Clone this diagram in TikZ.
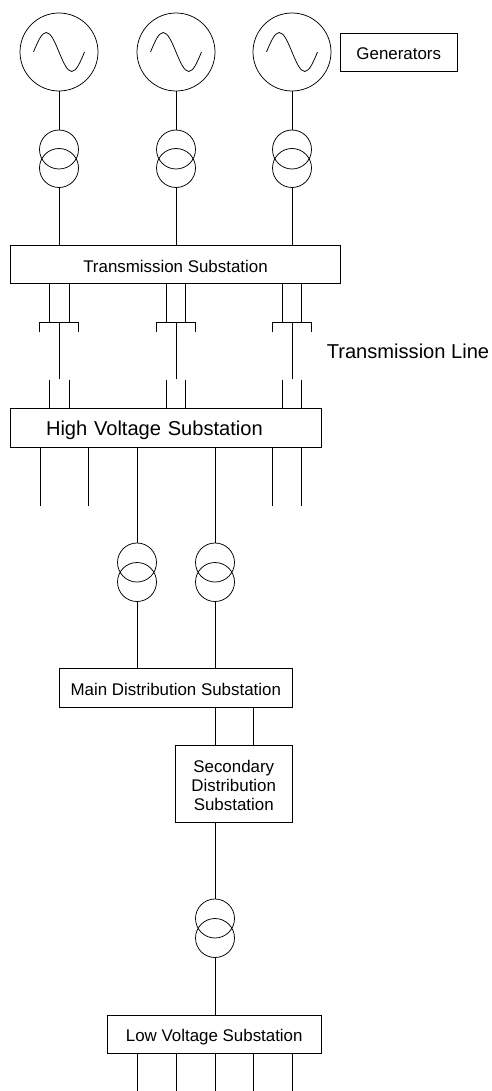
\documentclass[tikz,border=0pt]{standalone}
\usepackage{fontspec}
\setmainfont{Liberation Sans}
\tikzset{
  every node/.style={inner sep=0pt, outer sep=0pt},
  gencircle/.style={draw, circle, minimum size=78pt},
  trfcircle/.style={draw, circle, minimum size=39pt},
  subbox/.style={draw, minimum height=38.5pt, text height=15pt, text depth=0pt, font=\fontsize{16.9}{19}\selectfont},
  bigtext/.style={font=\fontsize{20.1}{24}\selectfont}
}
\newcommand{\sinewave}[1]{\draw ([xshift=-25.5pt]#1.center) sin ++(12.75,-19.5) cos ++(12.75,19.5) sin ++(12.75,19.5) cos ++(12.75,-19.5);}
\begin{document}
\begin{tikzpicture}[x=1pt,y=-1pt,line width=0.75pt]
  \useasboundingbox (0,0) rectangle (491,1091);
  % generators
  \node[gencircle] (gen1) at (59,52) {};
  \node[gencircle] (gen2) at (176,52) {};
  \node[gencircle] (gen3) at (292,52) {};
  \sinewave{gen1}
  \sinewave{gen2}
  \sinewave{gen3}
  \node[subbox, minimum width=116.5pt] (genbox) at (398.75,52.5) {Generators};
  % step up transformers
  \node[trfcircle] (trfa1) at (59,149.5) {};
  \node[trfcircle] (trfb1) at (59,168) {};
  \node[trfcircle] (trfa2) at (176,149.5) {};
  \node[trfcircle] (trfb2) at (176,168) {};
  \node[trfcircle] (trfa3) at (292,149.5) {};
  \node[trfcircle] (trfb3) at (292,168) {};
  % substations
  \node[subbox, minimum width=330pt] (trans) at (175.5,264.5) {Transmission Substation};
  \node[subbox, bigtext, minimum width=310.5pt, text width=239.5pt, inner xsep=35.5pt, align=left] (high) at (165.75,428) {High Voltage Substation};
  \node[subbox, minimum width=232.5pt] (main) at (175.75,688) {Main Distribution Substation};
  \node[subbox, minimum width=116.5pt, minimum height=77pt, text height=53pt, align=center] (sec) at (233.75,784) {Secondary\\Distribution\\Substation};
  \node[subbox, minimum width=213.5pt] (low) at (214.25,1034.25) {Low Voltage Substation};
  \node[bigtext] (line) at (408,351) {Transmission Line};
  % transformers below
  \node[trfcircle] (trfa4) at (137,562.5) {};
  \node[trfcircle] (trfb4) at (137,582) {};
  \node[trfcircle] (trfa5) at (215,562.5) {};
  \node[trfcircle] (trfb5) at (215,582) {};
  \node[trfcircle] (trfa6) at (215,918.5) {};
  \node[trfcircle] (trfb6) at (215,938) {};
  % tower tops
  \coordinate (tow1) at (59,322);
  \coordinate (tow2) at (176,322);
  \coordinate (tow3) at (292,322);
  \coordinate (end1) at (59,379);
  \coordinate (end2) at (176,379);
  \coordinate (end3) at (292,379);
  \draw (gen1) -- (trfa1);
  \draw (gen2) -- (trfa2);
  \draw (gen3) -- (trfa3);
  \draw (trfb1) -- (trans.north -| trfb1);
  \draw (trfb2) -- (trans.north -| trfb2);
  \draw (trfb3) -- (trans.north -| trfb3);
  \draw (trans.south -| 49.5,0) -- (49.5,322);
  \draw (trans.south -| 69,0) -- (69,322);
  \draw (trans.south -| 166,0) -- (166,322);
  \draw (trans.south -| 185.5,0) -- (185.5,322);
  \draw (trans.south -| 282,0) -- (282,322);
  \draw (trans.south -| 301.5,0) -- (301.5,322);
  \draw ([xshift=-19.5pt,yshift=-10pt]tow1) -- ([xshift=-19.5pt]tow1) -- ([xshift=19.5pt]tow1) -- ([xshift=19.5pt,yshift=-10pt]tow1);
  \draw ([xshift=-19.5pt,yshift=-10pt]tow2) -- ([xshift=-19.5pt]tow2) -- ([xshift=19.5pt]tow2) -- ([xshift=19.5pt,yshift=-10pt]tow2);
  \draw ([xshift=-19.5pt,yshift=-10pt]tow3) -- ([xshift=-19.5pt]tow3) -- ([xshift=19.5pt]tow3) -- ([xshift=19.5pt,yshift=-10pt]tow3);
  \draw (tow1) -- (end1);
  \draw (tow2) -- (end2);
  \draw (tow3) -- (end3);
  % incoming and outgoing lines of the high voltage substation
  \draw (49.5,379.5) -- (high.north -| 49.5,0);
  \draw (69,379.5) -- (high.north -| 69,0);
  \draw (166,379.5) -- (high.north -| 166,0);
  \draw (185.5,379.5) -- (high.north -| 185.5,0);
  \draw (282,379.5) -- (high.north -| 282,0);
  \draw (301.5,379.5) -- (high.north -| 301.5,0);
  \draw (high.south -| 40,0) -- (40,505.5);
  \draw (high.south -| 88.5,0) -- (88.5,505.5);
  \draw (high.south -| 272,0) -- (272,505.5);
  \draw (high.south -| 301.5,0) -- (301.5,505.5);
  \draw (high.south -| trfa4) -- (trfa4);
  \draw (high.south -| trfa5) -- (trfa5);
  \draw (trfb4) -- (main.north -| trfb4);
  \draw (trfb5) -- (main.north -| trfb5);
  % distribution
  \draw (main.south -| trfa5) -- (sec.north -| trfa5);
  \draw (main.south -| 253.5,0) -- (sec.north -| 253.5,0);
  \draw (sec.south -| trfa6) -- (trfa6);
  \draw (trfb6) -- (low.north -| trfb6);
  \draw (low.south -| 137,0) -- (137,1091);
  \draw (low.south -| 176,0) -- (176,1091);
  \draw (low.south -| 215,0) -- (215,1091);
  \draw (low.south -| 253.5,0) -- (253.5,1091);
  \draw (low.south -| 292,0) -- (292,1091);
\end{tikzpicture}
\end{document}
